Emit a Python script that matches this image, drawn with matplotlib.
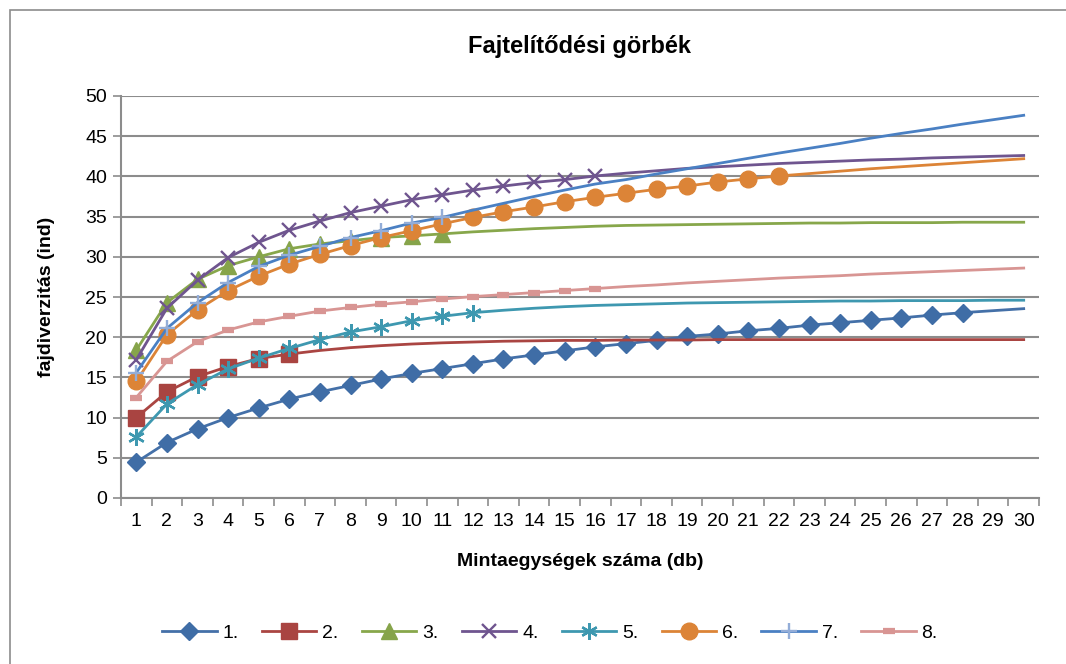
import matplotlib
matplotlib.use("Agg")
import matplotlib.pyplot as plt
from matplotlib.patches import Rectangle
import numpy as np

plt.rcParams['font.family'] = ['Liberation Sans', 'DejaVu Sans']

samples = list(range(1, 31))

# observed points (drawn with markers) and the estimated continuation up to 30
s1_obs = [4.45, 6.9, 8.6, 10.0, 11.2, 12.3, 13.2, 14.0, 14.8, 15.5, 16.1, 16.7, 17.3, 17.8,
          18.3, 18.8, 19.2, 19.6, 20.1, 20.4, 20.8, 21.1, 21.5, 21.8, 22.1, 22.4, 22.75, 23.05]
s1_est = [23.3, 23.55]
s2_obs = [10.0, 13.2, 15.1, 16.35, 17.35, 17.9]
s2_est = [18.35, 18.7, 18.95, 19.15, 19.3, 19.4, 19.5, 19.55, 19.6, 19.6, 19.65, 19.65, 19.65,
          19.7, 19.7, 19.7, 19.7, 19.7, 19.7, 19.7, 19.7, 19.7, 19.7, 19.7]
s3_obs = [18.4, 24.3, 27.2, 28.9, 30.0, 31.0, 31.6, 32.0, 32.4, 32.6, 32.85]
s3_est = [33.1, 33.3, 33.5, 33.65, 33.8, 33.9, 33.95, 34.0, 34.05, 34.1, 34.15, 34.2, 34.2,
          34.25, 34.25, 34.25, 34.3, 34.3, 34.3]
s4_obs = [17.2, 23.6, 27.1, 29.9, 31.8, 33.3, 34.45, 35.5, 36.3, 37.1, 37.7, 38.3, 38.8, 39.25,
          39.6, 40.05]
s4_est = [40.4, 40.7, 41.0, 41.2, 41.4, 41.6, 41.75, 41.9, 42.05, 42.15, 42.3, 42.4, 42.5, 42.6]
s5_obs = [7.6, 11.7, 14.1, 16.05, 17.4, 18.6, 19.7, 20.65, 21.3, 22.05, 22.6, 23.05]
s5_est = [23.35, 23.6, 23.8, 23.95, 24.05, 24.15, 24.25, 24.3, 24.35, 24.4, 24.45, 24.5, 24.5,
          24.55, 24.55, 24.55, 24.6, 24.6]
s6_obs = [14.5, 20.3, 23.4, 25.8, 27.6, 29.1, 30.3, 31.4, 32.4, 33.25, 34.1, 34.9, 35.6, 36.2,
          36.85, 37.4, 37.9, 38.4, 38.8, 39.3, 39.7, 40.05]
s6_est = [40.35, 40.65, 40.95, 41.2, 41.45, 41.7, 41.95, 42.2]
s7_obs = [15.6, 21.1, 24.3, 26.8, 28.8, 30.2, 31.3, 32.4, 33.25, 34.2, 34.9]
s7_est = [35.8, 36.65, 37.5, 38.3, 39.05, 39.6, 40.3, 40.95, 41.6, 42.25, 42.9, 43.5, 44.1,
          44.75, 45.35, 45.9, 46.5, 47.05, 47.6]
s8_obs = [12.5, 17.0, 19.45, 20.9, 21.9, 22.6, 23.25, 23.7, 24.1, 24.4, 24.75, 25.05, 25.3,
          25.55, 25.8, 26.05]
s8_est = [26.3, 26.5, 26.75, 26.95, 27.15, 27.35, 27.5, 27.65, 27.85, 28.0, 28.15, 28.3, 28.45,
          28.6]

labels = ['1.', '2.', '3.', '4.', '5.', '6.', '7.', '8.']
observed = [s1_obs, s2_obs, s3_obs, s4_obs, s5_obs, s6_obs, s7_obs, s8_obs]
estimated = [s1_est, s2_est, s3_est, s4_est, s5_est, s6_est, s7_est, s8_est]

styles = [
    dict(color='#4470A8', marker='D', ms=9.5, mfc='#3F6DA6', mec='#3F6DA6'),
    dict(color='#AA4542', marker='s', ms=11, mfc='#A94441', mec='#A94441'),
    dict(color='#87A74B', marker='^', ms=11, mfc='#86A44A', mec='#86A44A'),
    dict(color='#6F558F', marker='x', ms=10, mfc='none', mec='#6F558F', mew=1.7),
    dict(color='#3E98B0', marker=(6, 2, 0), ms=12, mfc='none', mec='#3E98B0', mew=1.7),
    dict(color='#DC8437', marker='o', ms=12, mfc='#DC8437', mec='#DC8437'),
    dict(color='#4A80C3', marker='+', ms=11, mfc='none', mec='#93ADD8', mew=1.7),
    dict(color='#D89593', marker='_', ms=8.5, mfc='#D89593', mec='#D89593', mew=4.5),
]

fig = plt.figure(figsize=(10.66, 6.64), dpi=100)
# chart frame: only its left and top edges fall inside the picture
fig.patches.append(Rectangle((9.5 / 1066, -0.1), 1.2, 0.1 + (664 - 10) / 664,
                             transform=fig.transFigure, fill=False,
                             edgecolor='#8c8c8c', linewidth=1.2))
ax = fig.add_axes([121 / 1066, 1 - 498 / 664, (1039 - 121) / 1066, (498 - 96) / 664])

for lab, obs, est, st in zip(labels, observed, estimated, styles):
    y = obs + est
    x = samples[:len(y)]
    ax.plot(x, y, lw=2.0, markevery=list(range(len(obs))), label=lab, **st)

ax.set_xlim(0.5, 30.5)
ax.set_ylim(0, 50)
ax.set_yticks(np.arange(0, 51, 5))
ax.set_xticks(np.arange(0.5, 31, 1))
ax.set_xticklabels([])
ax.set_xticks(samples, minor=True)
ax.set_xticklabels([str(s) for s in samples], minor=True, fontsize=14)
ax.tick_params(axis='x', which='major', length=6, color='#8c8c8c', width=1.2)
ax.tick_params(axis='x', which='minor', length=0, pad=11)
ax.tick_params(axis='y', length=6, color='#8c8c8c', width=1.2, labelsize=14, pad=4)
ax.grid(axis='y', color='#8c8c8c', linewidth=1.5)
ax.set_axisbelow(True)
for side in ['top', 'right']:
    ax.spines[side].set_visible(False)
for side in ['left', 'bottom']:
    ax.spines[side].set_color('#8c8c8c')
    ax.spines[side].set_linewidth(1.5)

ax.set_title('Fajtelítődési görbék', fontsize=17, fontweight='bold', pad=31)
ax.set_xlabel('Mintaegységek száma (db)', fontsize=14, fontweight='bold', labelpad=16)
ax.set_ylabel('fajdiverzitás (ind)', fontsize=14, fontweight='bold', labelpad=22)

fig.legend(loc='center', bbox_to_anchor=(550 / 1066, 1 - 633 / 664), ncol=8, frameon=False,
           fontsize=14, handlelength=2.8, columnspacing=1.2, handletextpad=0.3)

fig.savefig('out.png', dpi=100)
